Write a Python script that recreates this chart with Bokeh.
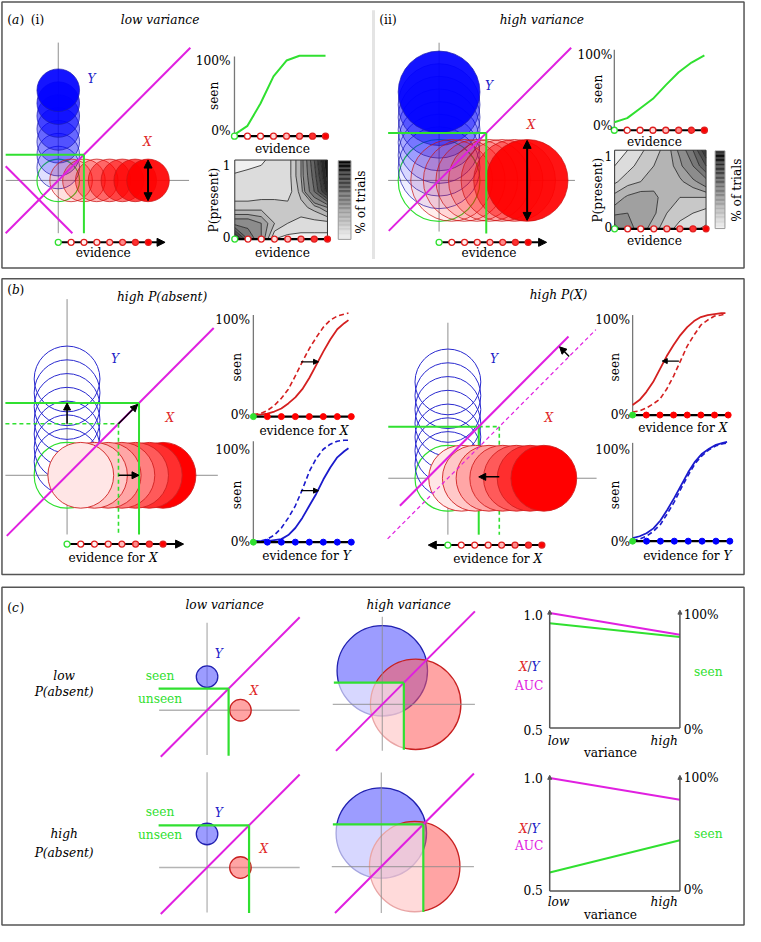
import numpy as np
from contourpy import contour_generator, FillType, LineType
from bokeh.plotting import figure
from bokeh.models import Range1d, Arrow, NormalHead
from bokeh.core.properties import value
from bokeh.embed import file_html
from bokeh.resources import INLINE

# ------------------------------------------------------------------ data
EVIDENCE = [0, 1, 2, 3, 4, 5, 6, 7]
STIM_MEANS = [1, 2, 3, 4, 5, 6, 7]

# panel (a)
A_SD_LOW, A_SD_HIGH = 1.66, 3.25
A_CRIT_LOW, A_CRIT_HIGH = 2.0, 3.75
A_ANTI_CRIT = -3.0
A_SEEN_LOW = [2, 13, 41, 75, 95, 101, 101, 101]
A_SEEN_HIGH = [10, 15, 27, 39, 56, 72, 84, 93]
P_PRESENT = [0.0, 0.2, 0.4, 0.6, 0.8, 1.0]
A_TRIALS_LOW = [
    [0.90, 0.50, 0.30, 0.10, 0.08, 0.08, 0.08, 0.08],
    [0.35, 0.35, 0.30, 0.20, 0.15, 0.13, 0.13, 0.13],
    [0.17, 0.17, 0.18, 0.18, 0.17, 0.18, 0.22, 0.30],
    [0.12, 0.12, 0.12, 0.12, 0.12, 0.22, 0.50, 0.85],
    [0.11, 0.12, 0.12, 0.12, 0.12, 0.25, 0.55, 0.95],
    [0.05, 0.07, 0.09, 0.12, 0.12, 0.25, 0.60, 1.00],
]
A_TRIALS_HIGH = [
    [0.45, 0.32, 0.28, 0.22, 0.17, 0.13, 0.11, 0.09],
    [0.28, 0.30, 0.30, 0.26, 0.20, 0.17, 0.15, 0.13],
    [0.22, 0.26, 0.28, 0.27, 0.21, 0.20, 0.20, 0.20],
    [0.14, 0.18, 0.20, 0.22, 0.22, 0.24, 0.28, 0.35],
    [0.10, 0.13, 0.17, 0.20, 0.22, 0.28, 0.40, 0.60],
    [0.08, 0.10, 0.14, 0.18, 0.22, 0.32, 0.50, 0.80],
]
TRIAL_LEVELS = [0, 0.1, 0.15, 0.2, 0.25, 0.3, 0.4, 0.5, 0.6, 0.7, 0.8, 0.9, 1.05]

# panel (b)
B_SD = 2.4
B_CRIT_BEFORE = 3.75
B_CRIT_AFTER_ABSENT = 5.25
B_CRIT_SHIFT_X = 1.5
B_EV = [0, 0.5, 1, 1.5, 2, 2.5, 3, 3.5, 4, 4.5, 5, 5.5, 6, 6.5, 6.8]
B1_X_BEFORE = [2, 3, 6, 11, 18, 27, 40, 54, 67, 78, 88, 95, 99, 101, 102]
B1_X_AFTER = [2, 2, 3, 5, 8, 13, 19, 27, 38, 51, 64, 76, 86, 92, 95]
B1_Y_BEFORE = [1, 1, 3, 7, 14, 24, 36, 52, 70, 83, 92, 97, 100, 101, 101]
B1_Y_AFTER = [1, 1, 1, 2, 3, 7, 14, 24, 36, 48, 62, 74, 84, 90, 93]
B2_X_BEFORE = [3, 4, 7, 11, 16, 26, 39, 54, 69, 80, 90, 95, 99, 100, 101]
B2_X_AFTER = [10, 15, 23, 33, 46, 59, 70, 80, 88, 94, 98, 100, 101, 102, 102]
B2_Y_BEFORE = [1, 2, 5, 10, 17, 28, 40, 54, 67, 79, 87, 93, 97, 99, 100]
B2_Y_AFTER = [3, 5, 8, 13, 21, 32, 44, 57, 70, 81, 89, 94, 98, 100, 101]

# panel (c)
C_MEAN = 3.1
C_SD_LOW, C_SD_HIGH = 1.0, 4.2
C_CRIT_LOW_PA, C_CRIT_HIGH_PA = 2.0, 3.9
C_VARIANCE = [0, 1]
C_AUC_LOW_PA = [1.0, 0.905]
C_SEEN_LOW_PA = [91, 79]
C_AUC_HIGH_PA = [1.0, 0.904]
C_SEEN_HIGH_PA = [16.5, 45]

# ------------------------------------------------------------------ style
SERIF = "DejaVu Serif"
FS = 12.2
SX = 745 / 761
MAG = "#e020e0"
GRN = "#30e030"
BLU = "#0000ff"
RED = "#ff0000"
AXG = "#8f8f8f"
LBL_BLUE = "#2020c8"
LBL_RED = "#e02828"
A_ALPHA_LOW = [0.12, 0.2, 0.3, 0.42, 0.55, 0.72, 0.92]
A_ALPHA_HIGH = [0.07, 0.09, 0.12, 0.16, 0.24, 0.4, 0.92]
B_REDS = ["#ffe6e6", "#ffc8c8", "#ffa6a6", "#ff8080", "#ff5a5a", "#ff2e2e", "#ff0000"]
EV_FILLS = ["white", "white", "#fff0f0", "#ffdede", "#ffbcbc", "#ff8a8a", "#ff3030", "#ff0000"]
EV_LINES = [GRN] + ["#e02020"] * 7

W, H = 761.0, 942.0
p = figure(width=745, height=926, x_range=Range1d(0, W), y_range=Range1d(H, 0),
           output_backend="svg", toolbar_location=None, min_border=0,
           x_axis_type=None, y_axis_type=None)
p.grid.visible = False
p.outline_line_color = None
p.background_fill_color = "white"
p.border_fill_color = "white"

XR, YR = {}, {}


def frame(name, xdom, ydom, xpx, ypx):
    kx = (xpx[1] - xpx[0]) / (xdom[1] - xdom[0])
    XR[name] = Range1d(xdom[0] + (0 - xpx[0]) / kx, xdom[0] + (W - xpx[0]) / kx)
    ky = (ypx[1] - ypx[0]) / (ydom[1] - ydom[0])
    YR[name] = Range1d(ydom[0] + (H - ypx[0]) / ky, ydom[0] + (0 - ypx[0]) / ky)
    return dict(x_range_name=name, y_range_name=name)


def frame_u(name, ox, oy, unit):
    return frame(name, (0, 1), (0, 1), (ox, ox + unit), (oy, oy - unit))


def T(x, y, s, color="black", style="normal", align="center", angle=0.0, size=FS):
    p.text(x=[x], y=[y], text=[s], text_font=value(SERIF), text_font_size=f"{size}px",
           text_color=color, text_font_style=style, text_align=align,
           text_baseline="middle", angle=angle)


def seg(rn, x0, y0, x1, y1, color, width=1.0, dash="solid", alpha=1.0):
    p.segment(x0=[x0], y0=[y0], x1=[x1], y1=[y1], line_color=color, line_width=width,
              line_dash=dash, line_alpha=alpha, **rn)


def arrow(rn, x0, y0, x1, y1, size=8, width=1.5, both=False, color="black", level="annotation"):
    def head():
        return NormalHead(size=size, fill_color=color, line_color=color, line_width=1)
    kw = dict(x_start=x0, y_start=y0, x_end=x1, y_end=y1, line_color=color,
              line_width=width, end=head(), level=level)
    if both:
        kw["start"] = head()
    p.add_layout(Arrow(**kw, **rn))


def gray(g):
    g = int(max(0, min(255, round(g))))
    return "#%02x%02x%02x" % (g, g, g)


def evidence_for(cx, cy, letter, size=FS):
    w_left, w_sp, w_x = 6.27 * size / SX, 0.318 * size / SX, 0.72 * size / SX
    start = cx - (w_left + w_sp + w_x) / 2
    T(start, cy, "evidence for", align="left", size=size)
    T(start + w_left + w_sp, cy, letter, style="italic", align="left", size=size)


def panel_tag(y, letter):
    T(7, y, "(", align="left")
    T(7 + 0.39 * FS / SX, y, letter, style="italic", align="left")
    T(7 + (0.39 + 0.6) * FS / SX, y, ")", align="left")


def evidence_axis(name, x0, x7, y, tip, fills, lines, start=0):
    rn = frame(name, (0, 7), (0, 1), (x0, x7), (y, y - 10))
    arrow(rn, start, 0, tip, 0, size=8, width=2, level="underlay")
    p.scatter(x=EVIDENCE, y=[0] * 8, size=6, marker="circle", fill_color=fills,
              line_color=lines, line_width=1.3, **rn)


def contour_panel(name, trials, xpx, ypx):
    rn = frame(name, (0, 7), (0, 1), xpx, ypx)
    X, Y = np.meshgrid(np.array(EVIDENCE, float), np.array(P_PRESENT, float))
    Z = np.array(trials, float)
    gen = contour_generator(X, Y, Z, fill_type=FillType.OuterOffset, line_type=LineType.Separate)
    xs, ys, cols = [], [], []
    for i in range(len(TRIAL_LEVELS) - 1):
        pts_l, offs_l = gen.filled(TRIAL_LEVELS[i], TRIAL_LEVELS[i + 1])
        px_, py_ = [], []
        for pts, offs in zip(pts_l, offs_l):
            px_.append([pts[offs[j]:offs[j + 1], 0].tolist() for j in range(len(offs) - 1)])
            py_.append([pts[offs[j]:offs[j + 1], 1].tolist() for j in range(len(offs) - 1)])
        if px_:
            xs.append(px_)
            ys.append(py_)
            cols.append(gray(240 - 20 * i))
    p.multi_polygons(xs=xs, ys=ys, fill_color=cols, line_color=None, **rn)
    lx, ly = [], []
    for lev in TRIAL_LEVELS[1:-1]:
        for ln in gen.lines(lev):
            lx.append(ln[:, 0].tolist())
            ly.append(ln[:, 1].tolist())
    p.multi_line(xs=lx, ys=ly, line_color="#202020", line_width=0.8, **rn)
    p.quad(left=[0], right=[7], bottom=[0], top=[1], fill_color=None,
           line_color="#333333", line_width=1, **rn)
    seg(rn, 0, 0, 7, 0, "black", 2.2)
    p.scatter(x=EVIDENCE, y=[0] * 8, size=6, marker="circle", fill_color=EV_FILLS,
              line_color=EV_LINES, line_width=1.3, **rn)


def colorbar(name, xpx, ypx):
    rn = frame(name, (0, 1), (0, 1), xpx, ypx)
    b = np.linspace(0, 1, 61)
    mids = (b[:-1] + b[1:]) / 2
    p.quad(left=0, right=1, bottom=b[:-1], top=b[1:],
           fill_color=[gray(240 * (1 - v)) for v in mids], line_color=None, **rn)
    p.quad(left=[0], right=[1], bottom=[0], top=[1], fill_color=None,
           line_color="#9a9a9a", line_width=1, **rn)


# ------------------------------------------------------------------ panel frames
p.quad(left=[1.5], right=[759.5], top=[1.5], bottom=[272], fill_color=None, line_color="#555555", line_width=1.5)
p.quad(left=[1.5], right=[759.5], top=[283], bottom=[584], fill_color=None, line_color="#555555", line_width=1.5)
p.quad(left=[1.5], right=[759.5], top=[597], bottom=[940.5], fill_color=None, line_color="#555555", line_width=1.5)
seg({}, 381, 10, 381, 263, "#e4e4e4", 3)

# ------------------------------------------------------------------ panel (a)
A_CFG = [
    dict(tag="ai", ox=59, oy=183, unit=13.1, sd=A_SD_LOW, crit=A_CRIT_LOW, alpha=A_ALPHA_LOW,
         v=(-4.1, 10.7), h=(-4.1, 10.2), d=(-4.1, 10.3), gdown=-4.1, anti=True,
         ev=(59, 151, 246, 8.3), seen=(239, 332, 138, 57), seenv=A_SEEN_LOW,
         cont=((239.3, 334), (242.7, 162.3)), trials=A_TRIALS_LOW, cb=((345, 358), (243, 163))),
    dict(tag="aii", ox=448, oy=183, unit=12.85, sd=A_SD_HIGH, crit=A_CRIT_HIGH, alpha=A_ALPHA_HIGH,
         v=(-4.05, 10.9), h=(-4.05, 10.8), d=(-4.0, 10.5), gdown=-4.2, anti=False,
         ev=(448, 539, 246, 8.45), seen=(627, 719, 132, 50), seenv=A_SEEN_HIGH,
         cont=((627.3, 720.7), (232.3, 152.3)), trials=A_TRIALS_HIGH, cb=((730, 740), (232, 153))),
]

for c in A_CFG:
    rn = frame_u(c["tag"], c["ox"], c["oy"], c["unit"])
    sd = c["sd"]
    seg(rn, 0, c["v"][0], 0, c["v"][1], AXG)
    seg(rn, c["h"][0], 0, c["h"][1], 0, AXG)
    p.circle(x=[0], y=[0], radius=sd, fill_color=None, line_color=GRN, line_width=1.2, **rn)
    p.circle(x=[0] * 7, y=STIM_MEANS, radius=sd, fill_color=BLU, fill_alpha=c["alpha"],
             line_color="#1c1cb0", line_width=0.8, line_alpha=0.9, **rn)
    p.circle(x=STIM_MEANS, y=[0] * 7, radius=sd, fill_color=RED, fill_alpha=c["alpha"],
             line_color="#c81414", line_width=0.8, line_alpha=0.9, **rn)
    d0, d1 = c["d"]
    seg(rn, d0, d0, d1, d1, MAG, 2)
    if c["anti"]:
        seg(rn, -4.1, A_ANTI_CRIT + 4.1, A_ANTI_CRIT + 4.1, -4.1, MAG, 2)
    cr = c["crit"]
    seg(rn, c["h"][0], cr, cr, cr, GRN, 2)
    seg(rn, cr, cr, cr, c["gdown"], GRN, 2)
    arrow(rn, 7, -(sd - 0.08), 7, sd - 0.08, size=8, width=2, both=True)

    x0, x7, ye, tip = c["ev"]
    evidence_axis(c["tag"] + "e", x0, x7, ye, tip, EV_FILLS, EV_LINES)

    sx0, sx7, sy0, sy1 = c["seen"]
    rs = frame(c["tag"] + "s", (0, 7), (0, 100), (sx0, sx7), (sy0, sy1))
    seg(rs, 0, 0, 0, 100, "#777777", 1.3)
    p.line(x=EVIDENCE, y=c["seenv"], line_color=GRN, line_width=2, **rs)
    seg(rs, 0, 0, 7, 0, "black", 2.2)
    p.scatter(x=EVIDENCE, y=[0] * 8, size=6, marker="circle", fill_color=EV_FILLS,
              line_color=EV_LINES, line_width=1.3, **rs)

    contour_panel(c["tag"] + "c", c["trials"], c["cont"][0], c["cont"][1])
    colorbar(c["tag"] + "cb", c["cb"][0], c["cb"][1])

panel_tag(20, "a")
T(31, 20, "(i)", align="left")
T(163, 20, "low variance", style="italic")
T(387, 20, "(ii)", align="left")
T(553, 20, "high variance", style="italic")
T(93, 80, "Y", LBL_BLUE, "italic")
T(150, 144, "X", LBL_RED, "italic")
T(105, 257, "evidence")
T(235, 62, "100%", align="right")
T(235, 133, "0%", align="right")
T(218, 97, "seen", angle=np.pi / 2)
T(288, 151, "evidence")
T(235, 167, "1", align="right")
T(235, 241, "0", align="right")
T(218, 203, "P(present)", angle=np.pi / 2)
T(368, 205, "% of trials", angle=np.pi / 2)
T(288, 257, "evidence")
T(499, 87, "Y", LBL_BLUE, "italic")
T(542, 127, "X", LBL_RED, "italic")
T(499, 257, "evidence")
T(625, 55, "100%", align="right")
T(625, 128, "0%", align="right")
T(610, 90, "seen", angle=np.pi / 2)
T(668, 144, "evidence")
T(625, 158, "1", align="right")
T(625, 230, "0", align="right")
T(610, 193, "P(present)", angle=np.pi / 2)
T(752, 193, "% of trials", angle=np.pi / 2)
T(668, 245, "evidence")

# ------------------------------------------------------------------ panel (b)
BLUE_LINE = "#2a2ad0"
RED_LINE = "#d02020"

rn = frame_u("bl", 68, 483, 14.0)
seg(rn, 0, -4.3, 0, 12.8, AXG)
seg(rn, -4.5, 0, 11.0, 0, AXG)
p.circle(x=[0], y=[0], radius=B_SD, fill_color=None, line_color=GRN, line_width=1.2, **rn)
p.circle(x=[0] * 7, y=STIM_MEANS, radius=B_SD, fill_color=None, line_color=BLUE_LINE, line_width=1, **rn)
p.circle(x=STIM_MEANS[::-1], y=[0] * 7, radius=B_SD, fill_color=B_REDS[::-1],
         line_color=RED_LINE, line_width=0.9, **rn)
seg(rn, -4.4, -4.4, 10.7, 10.7, MAG, 2)
seg(rn, -4.5, B_CRIT_BEFORE, B_CRIT_BEFORE, B_CRIT_BEFORE, GRN, 1.6, "4 3")
seg(rn, B_CRIT_BEFORE, B_CRIT_BEFORE, B_CRIT_BEFORE, -4.3, GRN, 1.6, "4 3")
seg(rn, -4.5, B_CRIT_AFTER_ABSENT, B_CRIT_AFTER_ABSENT, B_CRIT_AFTER_ABSENT, GRN, 2)
seg(rn, B_CRIT_AFTER_ABSENT, B_CRIT_AFTER_ABSENT, B_CRIT_AFTER_ABSENT, -4.3, GRN, 2)
arrow(rn, 0, B_CRIT_BEFORE, 0, B_CRIT_AFTER_ABSENT, size=7)
arrow(rn, B_CRIT_BEFORE, 0, B_CRIT_AFTER_ABSENT, 0, size=7)
arrow(rn, B_CRIT_BEFORE, B_CRIT_BEFORE, B_CRIT_AFTER_ABSENT - 0.1, B_CRIT_AFTER_ABSENT - 0.1, size=7)
evidence_axis("ble", 68, 166, 553, 8.5, EV_FILLS, EV_LINES)

rn = frame_u("br", 457, 486, 14.0)
new_x = B_CRIT_BEFORE - B_CRIT_SHIFT_X
seg(rn, 0, -4.1, 0, 11.3, AXG)
seg(rn, -4.35, 0, 10.85, 0, AXG)
p.circle(x=[0], y=[0], radius=B_SD, fill_color=None, line_color=GRN, line_width=1.2, **rn)
p.circle(x=[0] * 7, y=STIM_MEANS, radius=B_SD, fill_color=None, line_color=BLUE_LINE, line_width=1, **rn)
seg(rn, new_x, B_CRIT_BEFORE, B_CRIT_BEFORE, B_CRIT_BEFORE, GRN, 1.6, "4 3")
seg(rn, B_CRIT_BEFORE, B_CRIT_BEFORE, B_CRIT_BEFORE, -4.1, GRN, 1.6, "4 3")
seg(rn, -4.35, B_CRIT_BEFORE, new_x, B_CRIT_BEFORE, GRN, 2)
seg(rn, new_x, B_CRIT_BEFORE, new_x, -4.1, GRN, 2)
p.circle(x=STIM_MEANS, y=[0] * 7, radius=B_SD, fill_color=B_REDS,
         line_color=RED_LINE, line_width=0.9, **rn)
seg(rn, -4.4, -4.4, 10.8, 10.8, MAG, 1.2, "4 3")
seg(rn, -3.5, -3.5 + B_CRIT_SHIFT_X, 8.8, 8.8 + B_CRIT_SHIFT_X, MAG, 2)
arrow(rn, B_CRIT_BEFORE, 0.1, new_x, 0.1, size=7)
arrow(rn, 8.85, 8.85, 8.85 - 0.7, 8.85 + 0.7, size=7)
evidence_axis("bre", 457, 553, 554, -1.46, EV_FILLS, EV_LINES, start=7)

B_PLOTS = [
    ("blt", (258.3, 358.3), (423.3, 320), B1_X_BEFORE, B1_X_AFTER, "#d42020", RED, (3.4, 4.66, 54)),
    ("blb", (258.3, 358.3), (551, 448.3), B1_Y_BEFORE, B1_Y_AFTER, "#1a1acc", BLU, (3.4, 4.66, 51)),
    ("brt", (645.7, 743.3), (421.7, 320), B2_X_BEFORE, B2_X_AFTER, "#d42020", RED, (3.39, 2.17, 54)),
    ("brb", (645.7, 745), (550, 450), B2_Y_BEFORE, B2_Y_AFTER, "#1a1acc", BLU, None),
]
for tag, xpx, ypx, before, after, lc, mc, arr in B_PLOTS:
    rs = frame(tag, (0, 7), (0, 100), xpx, ypx)
    seg(rs, 0, 0, 0, 100, "#777777", 1.3)
    p.line(x=B_EV, y=before, line_color=lc, line_width=1.6, line_dash="5 3", **rs)
    p.line(x=B_EV, y=after, line_color=lc, line_width=1.8, **rs)
    seg(rs, 0, 0, 7, 0, "black", 2.2)
    p.scatter(x=EVIDENCE, y=[0] * 8, size=6, marker="circle", fill_color=[GRN] + [mc] * 7,
              line_color=[GRN] + [mc] * 7, line_width=1, **rs)
    if arr:
        arrow(rs, arr[0], arr[2], arr[1], arr[2], size=5, width=1.2)

panel_tag(295, "b")
T(165, 302, "high P(absent)", style="italic")
T(570, 300, "high P(X)", style="italic")
T(117, 365, "Y", LBL_BLUE, "italic")
T(173, 425, "X", LBL_RED, "italic")
evidence_for(115, 567, "X")
T(255, 325, "100%", align="right")
T(255, 422, "0%", align="right")
T(242, 373, "seen", angle=np.pi / 2)
evidence_for(310, 438, "X")
T(255, 457, "100%", align="right")
T(255, 551, "0%", align="right")
T(242, 503, "seen", angle=np.pi / 2)
evidence_for(313, 565, "Y")
T(504, 365, "Y", LBL_BLUE, "italic")
T(560, 425, "X", LBL_RED, "italic")
evidence_for(508, 568, "X")
T(643, 325, "100%", align="right")
T(643, 422, "0%", align="right")
T(628, 373, "seen", angle=np.pi / 2)
evidence_for(697, 435, "X")
T(643, 457, "100%", align="right")
T(643, 551, "0%", align="right")
T(628, 503, "seen", angle=np.pi / 2)
evidence_for(702, 565, "Y")

# ------------------------------------------------------------------ panel (c)
C_CFG = [
    ("c11", 211, 722, C_SD_LOW, C_CRIT_LOW_PA, 8.1, False),
    ("c12", 390, 716, C_SD_HIGH, C_CRIT_LOW_PA, 8.1, True),
    ("c21", 211, 882, C_SD_LOW, C_CRIT_HIGH_PA, 8.8, False),
    ("c22", 389, 881, C_SD_HIGH, C_CRIT_HIGH_PA, 8.7, True),
]
CAXG = "#b4b4b4"
for tag, ox, oy, sd, crit, vtop, overlay in C_CFG:
    rn = frame_u(tag, ox, oy, 11.0)
    if not overlay:
        seg(rn, 0, -4.15, 0, vtop, CAXG, 1.3)
        seg(rn, -4.45, 0, 8.6, 0, CAXG, 1.3)
    p.circle(x=[0], y=[C_MEAN], radius=sd, fill_color="#5a5aff", fill_alpha=0.6,
             line_color="#2020b0", line_width=1.3, **rn)
    p.circle(x=[C_MEAN], y=[0], radius=sd, fill_color="#ff5a5a", fill_alpha=0.55,
             line_color="#c82020", line_width=1.3, **rn)
    if overlay:
        p.quad(left=[-4.7], right=[crit], top=[crit], bottom=[-4.7], fill_color="white",
               fill_alpha=0.6, line_color=None, **rn)
        seg(rn, 0, -4.3, 0, vtop, "#8a8a8a", 1.2, alpha=0.7)
        seg(rn, -4.6, 0, 8.6, 0, "#8a8a8a", 1.2, alpha=0.7)
    seg(rn, -4.3, -4.3, 8.6, 8.6, MAG, 2)
    seg(rn, -4.5, crit, crit, crit, GRN, 2.2)
    seg(rn, crit, crit, crit, -4.2, GRN, 2.2)

CH_AX = "#555555"
for row, (auc, seen, ypx) in enumerate([(C_AUC_LOW_PA, C_SEEN_LOW_PA, (740, 623)),
                                         (C_AUC_HIGH_PA, C_SEEN_HIGH_PA, (906, 791))]):
    ra = frame(f"cauc{row}", (0, 1), (0.5, 1.0), (561, 694), ypx)
    rs = frame(f"cseen{row}", (0, 1), (0, 100), (561, 694), ypx)
    seg(ra, 0, 0.5, 1, 0.5, CH_AX, 1.5)
    arrow(ra, 0, 0.5, 0, 1.012, size=4, width=1.5, color=CH_AX)
    arrow(ra, 1, 0.5, 1, 1.012, size=4, width=1.5, color=CH_AX)
    p.line(x=C_VARIANCE, y=auc, line_color=MAG, line_width=2, **ra)
    p.line(x=C_VARIANCE, y=seen, line_color=GRN, line_width=2, **rs)

panel_tag(618, "c")
T(229, 615, "low variance", style="italic")
T(417, 615, "high variance", style="italic")
T(65, 687, "low", style="italic")
T(65, 703, "P(absent)", style="italic")
T(65, 848, "high", style="italic")
T(65, 867, "P(absent)", style="italic")
T(163, 687, "seen", GRN)
T(163, 711, "unseen", GRN)
T(223, 665, "Y", LBL_BLUE, "italic")
T(259, 702, "X", LBL_RED, "italic")
T(163, 826, "seen", GRN)
T(163, 849, "unseen", GRN)
T(223, 827, "Y", LBL_BLUE, "italic")
T(269, 863, "X", LBL_RED, "italic")
for yt, yb, yl, yv, yx, yauc, ys in [(625, 742, 753, 766, 678, 697, 683),
                                      (791, 905, 917, 930, 843, 860, 848)]:
    T(554, yt, "1.0", align="right")
    T(554, yb, "0.5", align="right")
    T(698, yt, "100%", align="left")
    T(698, yb, "0%", align="left")
    T(570, yl, "low", style="italic")
    T(678, yl, "high", style="italic")
    T(623, yv, "variance")
    T(538.5, yx, "X", LBL_RED, "italic", align="right")
    T(540.5, yx, "/", "#333366")
    T(542.5, yx, "Y", LBL_BLUE, "italic", align="left")
    T(540, yauc, "AUC", MAG)
    T(723, ys, "seen", GRN)

p.extra_x_ranges = XR
p.extra_y_ranges = YR

open("out.html", "w").write(file_html(p, INLINE))
